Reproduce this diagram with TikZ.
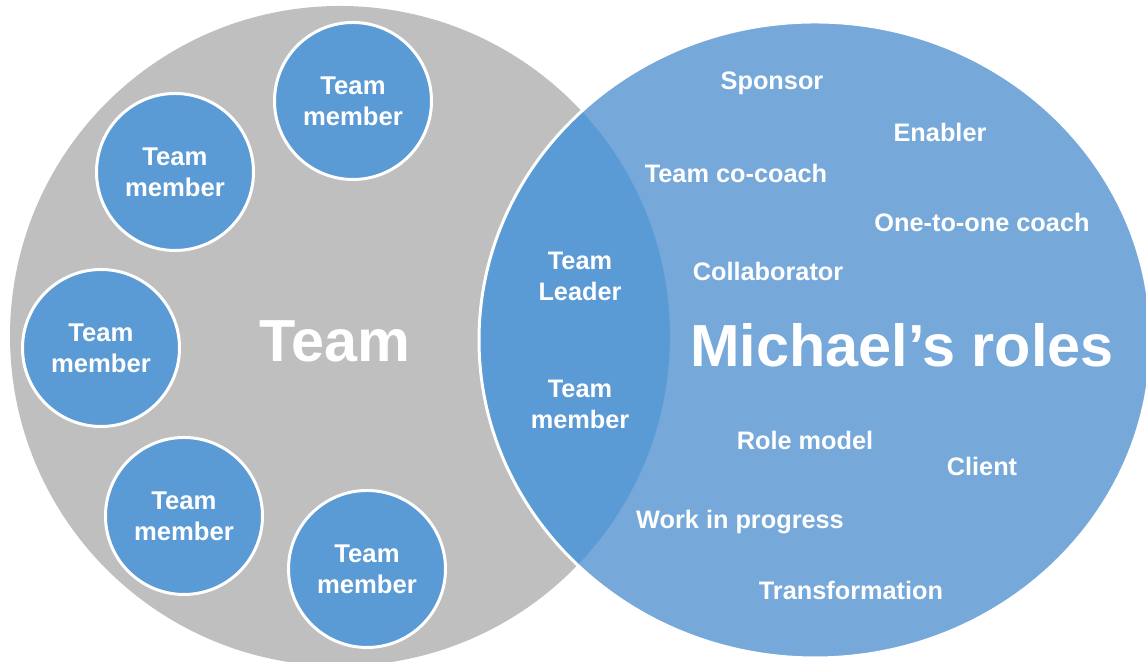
\documentclass[tikz,border=0pt]{standalone}
\usepackage{fontspec}
\setmainfont{Liberation Sans}
\usepackage{tikz}

\definecolor{teamgray}{HTML}{BFBFBF}
\definecolor{memberblue}{HTML}{5B9BD5}
\definecolor{roleblue}{HTML}{76A9DA}

\begin{document}
\begin{tikzpicture}
  \tikzstyle{member}=[circle,draw=white,line width=0.85pt,fill=memberblue,minimum size=1.57cm,inner sep=0pt,text=white,align=center,font=\bfseries\fontsize{7.3}{8.8}\selectfont]
  \tikzstyle{role}=[text=white,inner sep=0pt,text height=5.2pt,text depth=0pt,font=\bfseries\fontsize{7.2}{8.8}\selectfont]
  \tikzstyle{lens}=[text=white,inner sep=0pt,align=center,font=\bfseries\fontsize{7.2}{8.8}\selectfont]
  \tikzstyle{title}=[text=white,inner sep=0pt,text height=12.1pt,text depth=0pt,font=\bfseries\fontsize{16.9}{19}\selectfont]
  \useasboundingbox (0,0) rectangle (11.46,6.62);

  \fill[teamgray] (3.40,3.26) circle [radius=3.30];
  \fill[roleblue] (8.15,3.22) ellipse [x radius=3.36, y radius=3.18];
  \begin{scope}
    \clip (8.15,3.22) ellipse [x radius=3.36, y radius=3.18];
    \fill[memberblue] (3.40,3.26) circle [radius=3.30];
  \end{scope}
  \draw[white,line width=0.85pt] (8.15,3.22) ellipse [x radius=3.36, y radius=3.18];

  \node[member] (m1) at (3.53,5.61) {Team\\member};
  \node[member] (m2) at (1.75,4.90) {Team\\member};
  \node[member] (m3) at (1.01,3.14) {Team\\member};
  \node[member] (m4) at (1.84,1.46) {Team\\member};
  \node[member] (m5) at (3.67,0.93) {Team\\member};
  \node[title] (team) at (3.35,3.22) {Team};

  \node[lens] (leader) at (5.80,3.86) {Team\\Leader};
  \node[lens] (inner) at (5.80,2.58) {Team\\member};

  \node[title] (roles) at (9.02,3.17) {Michael’s roles};
  \node[role] (sponsor) at (7.72,5.82) {Sponsor};
  \node[role] (enabler) at (9.40,5.30) {Enabler};
  \node[role] (cocoach) at (7.36,4.89) {Team co-coach};
  \node[role] (onetoone) at (9.82,4.40) {One-to-one coach};
  \node[role] (collaborator) at (7.68,3.91) {Collaborator};
  \node[role] (rolemodel) at (8.05,2.22) {Role model};
  \node[role] (client) at (9.82,1.96) {Client};
  \node[role] (progress) at (7.40,1.43) {Work in progress};
  \node[role] (transformation) at (8.51,0.72) {Transformation};
\end{tikzpicture}
\end{document}
